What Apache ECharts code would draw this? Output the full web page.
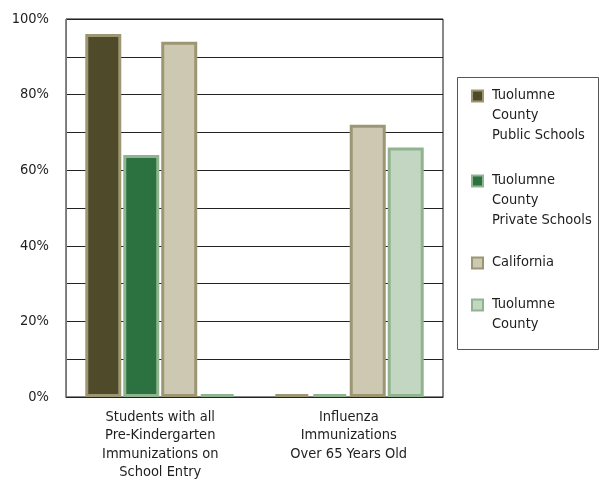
<!DOCTYPE html>
<html>
<head>
<meta charset="utf-8">
<script src="https://cdn.jsdelivr.net/npm/echarts@6/dist/echarts.min.js"></script>
<style>
html,body{margin:0;padding:0;background:#fff;}
#chart{width:599px;height:488px;}
</style>
</head>
<body>
<div id="chart"></div>
<script>
// ---- data ----
var categories = [
  'Students with all\nPre-Kindergarten\nImmunizations on\nSchool Entry',
  'Influenza\nImmunizations\nOver 65 Years Old'
];
var seriesNames = [
  'Tuolumne County Public Schools',
  'Tuolumne County Private Schools',
  'California',
  'Tuolumne County'
];
var legendLabels = [
  'Tuolumne\nCounty\nPublic Schools',
  'Tuolumne\nCounty\nPrivate Schools',
  'California',
  'Tuolumne\nCounty'
];
var publicSchools  = [96, 0];
var privateSchools = [64, 0];
var california     = [94, 72];
var tuolumneCounty = [0, 66];
var yTicks = [0, 20, 40, 60, 80, 100];

// ---- styles ----
var FONT = "'DejaVu Sans Condensed', 'Liberation Sans Narrow', sans-serif";
var fills   = ['#4e4a2a', '#2c7140', '#cdc8b1', '#c3d6c1'];
var borders = ['#9d9672', '#90b48f', '#9d9672', '#90b48f'];
var values  = [publicSchools, privateSchools, california, tuolumneCounty];

var series = seriesNames.map(function (n, i) {
  return {
    name: n,
    type: 'bar',
    data: values[i],
    barWidth: 36,
    barGap: '5.5%',
    barMinHeight: 3,
    itemStyle: { color: fills[i], borderColor: borders[i], borderWidth: 3 }
  };
});

// one legend per item so the icon sits next to the first text line
var LINE_H = 20;
var legendTops = [85.5, 170.5, 252.5, 294.5];
var legends = seriesNames.map(function (n, i) {
  var lines = legendLabels[i].split('\n').length;
  var H = lines * LINE_H;
  var icon = 'path://M0,0 M15,' + H + ' M0,5 L11,5 L11,16 L0,16 Z';
  return {
    orient: 'vertical',
    left: 471,
    top: legendTops[i] - 1,
    padding: 0,
    itemWidth: 15,
    itemHeight: H,
    selectedMode: false,
    data: [{ name: n, icon: icon,
      itemStyle: { color: fills[i], borderColor: borders[i], borderWidth: 2 } }],
    formatter: function () { return legendLabels[i]; },
    textStyle: { fontFamily: FONT, fontSize: 14.5, lineHeight: LINE_H, color: '#1e1e1e' }
  };
});

var chart = echarts.init(document.getElementById('chart'), null, { renderer: 'canvas' });
chart.setOption({
  animation: false,
  backgroundColor: '#ffffff',
  grid: {
    left: 66, right: 156, top: 19, bottom: 91,
    show: true, borderColor: '#111', borderWidth: 1, backgroundColor: 'transparent'
  },
  xAxis: {
    type: 'category',
    data: categories,
    axisLine: { show: true, lineStyle: { color: '#222', width: 1 } },
    axisTick: { show: false },
    axisLabel: {
      interval: 0, margin: 11,
      fontFamily: FONT, fontSize: 14.5, lineHeight: 18.3, color: '#1e1e1e'
    }
  },
  yAxis: {
    type: 'value',
    min: 0, max: 100, interval: 10,
    axisLine: { show: true, lineStyle: { color: '#777', width: 1 } },
    axisTick: { show: false },
    splitLine: { show: true, lineStyle: { color: '#222', width: 1 } },
    axisLabel: {
      margin: 17,
      fontFamily: FONT, fontSize: 14.5, color: '#1e1e1e',
      formatter: function (v) { return yTicks.indexOf(v) >= 0 ? v + '%' : ''; }
    }
  },
  legend: legends,
  graphic: [{
    type: 'rect',
    shape: { x: 457.5, y: 77.5, width: 141, height: 272 },
    style: { fill: 'none', stroke: '#555', lineWidth: 1 },
    silent: true, z: -1
  }],
  series: series
});
</script>
</body>
</html>
